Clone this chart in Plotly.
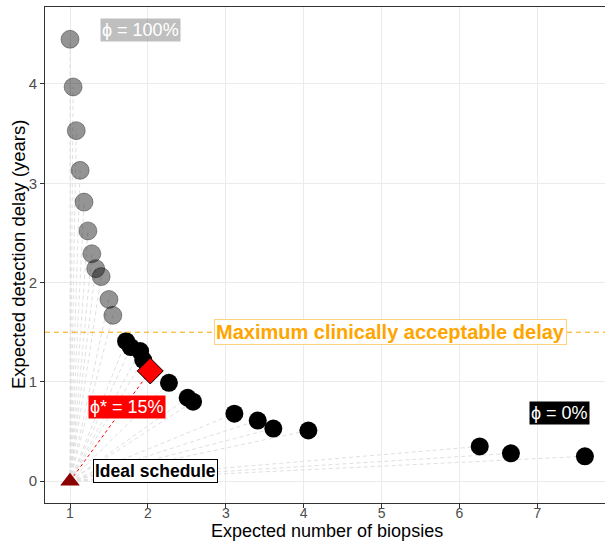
import plotly.graph_objects as go

# Schedules with phi close to 100% (low number of biopsies, long delay)
grey_biopsies = [1.00, 1.04, 1.08, 1.13, 1.18, 1.23, 1.28, 1.33, 1.40, 1.50, 1.55]
grey_delay = [4.45, 3.97, 3.53, 3.13, 2.81, 2.52, 2.29, 2.14, 2.06, 1.83, 1.67]

# Schedules within the clinically acceptable delay
black_biopsies = [1.72, 1.78, 1.90, 1.94, 2.27, 2.51, 2.58, 3.11, 3.41, 3.61, 4.06, 6.26, 6.66, 7.61]
black_delay = [1.41, 1.35, 1.31, 1.22, 0.99, 0.84, 0.80, 0.68, 0.61, 0.53, 0.51, 0.35, 0.28, 0.25]

# Optimal schedule (phi* = 15%) and the ideal schedule
optimal_biopsies = [2.03]
optimal_delay = [1.11]
ideal_biopsies = [1.0]
ideal_delay = [0.0]

max_delay = 1.5

FONT = "Liberation Sans, Arial, sans-serif"

fig = go.Figure()

# dashed rays from the ideal schedule to every schedule
ray_x, ray_y = [], []
for bx, by in zip(grey_biopsies + black_biopsies, grey_delay + black_delay):
    ray_x += [ideal_biopsies[0], bx, None]
    ray_y += [ideal_delay[0], by, None]
fig.add_trace(go.Scatter(x=ray_x, y=ray_y, mode="lines",
                         line=dict(color="#E0E0E0", width=1, dash="4px,3px"),
                         hoverinfo="skip", showlegend=False))

# red ray to the optimal schedule
fig.add_trace(go.Scatter(x=[ideal_biopsies[0], optimal_biopsies[0]],
                         y=[ideal_delay[0], optimal_delay[0]], mode="lines",
                         line=dict(color="red", width=1, dash="3px,3px"),
                         hoverinfo="skip", showlegend=False))

# clinical threshold
fig.add_hline(y=max_delay, line=dict(color="orange", width=1, dash="5px,4px"))

fig.add_trace(go.Scatter(x=grey_biopsies, y=grey_delay, mode="markers",
                         marker=dict(size=18, color="rgba(0,0,0,0.42)",
                                     line=dict(color="rgba(0,0,0,0.35)", width=1)),
                         showlegend=False))
fig.add_trace(go.Scatter(x=black_biopsies, y=black_delay, mode="markers",
                         marker=dict(size=18, color="black", line=dict(width=0)),
                         showlegend=False))
fig.add_trace(go.Scatter(x=optimal_biopsies, y=optimal_delay, mode="markers",
                         marker=dict(symbol="diamond", size=20, color="red",
                                     line=dict(color="black", width=1)),
                         showlegend=False))
fig.add_trace(go.Scatter(x=ideal_biopsies, y=ideal_delay, mode="markers",
                         marker=dict(symbol="triangle-up", size=17, color="#8B0000",
                                     line=dict(width=0)),
                         showlegend=False))

annotations = [
    dict(x=1.9, y=4.54, text="ϕ = 100%", font=dict(color="white", size=18, family=FONT),
         bgcolor="rgba(128,128,128,0.5)", borderpad=1),
    dict(x=1.73, y=0.745, text="ϕ* = 15%", font=dict(color="white", size=18, family=FONT),
         bgcolor="red", borderpad=1),
    dict(x=7.29, y=0.69, text="ϕ = 0%", font=dict(color="white", size=18, family=FONT),
         bgcolor="black", borderpad=1),
    dict(x=2.10, y=0.10, text="<b>Ideal schedule</b>", font=dict(color="black", size=17.5, family=FONT),
         bgcolor="white", bordercolor="black", borderwidth=1, borderpad=1),
    dict(x=5.11, y=max_delay, text="<b>Maximum clinically acceptable delay</b>",
         font=dict(color="orange", size=20, family=FONT),
         bgcolor="white", bordercolor="#FFD27F", borderwidth=1, borderpad=1),
]
for a in annotations:
    a.update(xref="x", yref="y", showarrow=False)

# axis titles
annotations += [
    dict(x=0.504, y=-0.0565, xref="paper", yref="paper", showarrow=False,
         xanchor="center", yanchor="middle",
         text="Expected number of biopsies", font=dict(size=18, color="black", family=FONT)),
    dict(x=-0.048, y=0.5, xref="paper", yref="paper", showarrow=False, textangle=-90,
         xanchor="center", yanchor="middle",
         text="Expected detection delay (years)", font=dict(size=18.5, color="black", family=FONT)),
]
fig.update_layout(annotations=annotations)

fig.update_layout(
    width=605, height=541,
    margin=dict(l=45, r=0, t=7, b=38),
    paper_bgcolor="white", plot_bgcolor="white",
    font=dict(family=FONT),
    xaxis=dict(range=[0.679, 7.868], tickvals=[1, 2, 3, 4, 5, 6, 7],
               showgrid=True, gridcolor="#EBEBEB", gridwidth=1, zeroline=False,
               showline=True, linecolor="#333333", linewidth=1, mirror=True,
               ticks="outside", ticklen=4, tickcolor="#333333",
               ticklabelstandoff=-7,
               tickfont=dict(size=14, color="#4D4D4D")),
    yaxis=dict(range=[-0.22, 4.775], tickvals=[0, 1, 2, 3, 4],
               showgrid=True, gridcolor="#EBEBEB", gridwidth=1, zeroline=False,
               showline=True, linecolor="#333333", linewidth=1,
               ticks="outside", ticklen=4, tickcolor="#333333",
               tickfont=dict(size=15, color="#4D4D4D")),
)

fig.write_html("out.html")
